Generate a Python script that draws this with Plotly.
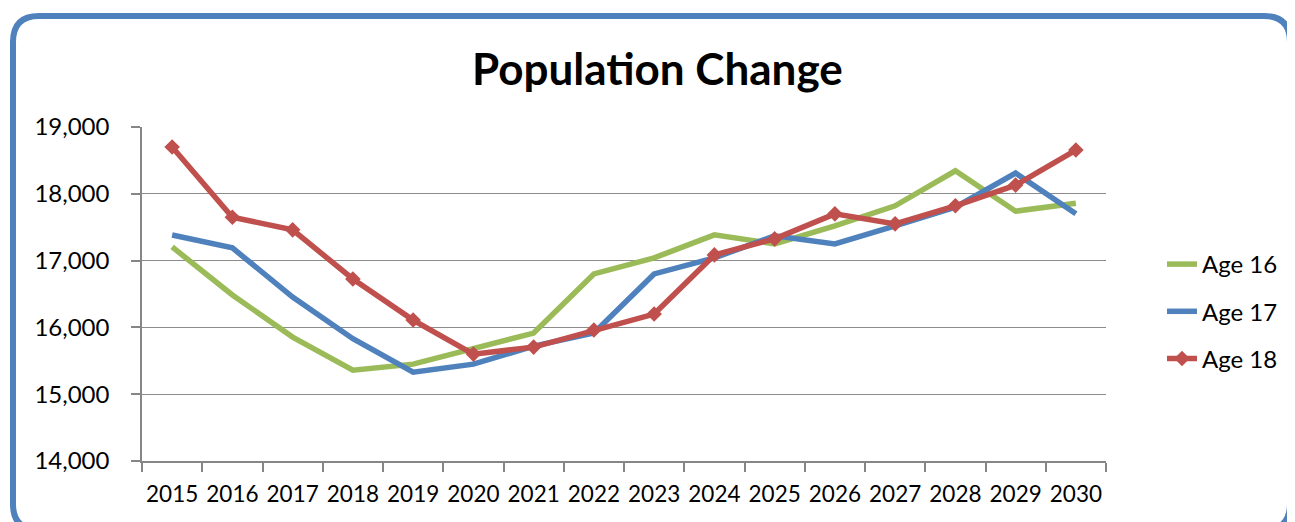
import plotly.graph_objects as go

years = [str(y) for y in range(2015, 2031)]
age16 = [17205, 16485, 15855, 15360, 15450, 15690, 15915, 16800, 17040, 17385, 17250, 17520, 17820, 18345, 17740, 17860]
age17 = [17383, 17190, 16455, 15830, 15330, 15450, 15720, 15915, 16800, 17040, 17370, 17250, 17520, 17800, 18310, 17700]
age18 = [18700, 17650, 17460, 16725, 16110, 15600, 15705, 15960, 16200, 17085, 17325, 17700, 17550, 17820, 18130, 18655]
series_names = ["Age 16", "Age 17", "Age 18"]
colors = ["#9BBB59", "#4F81BD", "#C0504D"]

OFF = 8  # page body margin
W, H = 1295 - OFF, 522 - OFF
L, R, T, B = 142 - OFF, 1106 - OFF, 127 - OFF, 461 - OFF
FONT = "Lato, Open Sans, sans-serif"

def px(x):  # page pixel -> paper
    return (x - OFF - L) / (R - L)

def py(y):
    return (B - (y - OFF)) / (B - T)

fig = go.Figure()
for name, vals, col in zip(series_names, [age16, age17, age18], colors):
    kw = dict(mode="lines")
    if name == "Age 18":
        kw = dict(mode="lines+markers", marker=dict(symbol="diamond", size=12, color=col))
    fig.add_trace(go.Scatter(x=years, y=vals, name=name, line=dict(color=col, width=5.5),
                             legendgroup=name, **kw))

# rounded border path (page pixels -> paper)
x0, y0, x1, y1, r = 13, 16, 1290, 530, 26
pts = (f"M {px(x0+r)},{py(y0)} L {px(x1-r)},{py(y0)} Q {px(x1)},{py(y0)} {px(x1)},{py(y0+r)} "
       f"L {px(x1)},{py(y1-r)} Q {px(x1)},{py(y1)} {px(x1-r)},{py(y1)} "
       f"L {px(x0+r)},{py(y1)} Q {px(x0)},{py(y1)} {px(x0)},{py(y1-r)} "
       f"L {px(x0)},{py(y0+r)} Q {px(x0)},{py(y0)} {px(x0+r)},{py(y0)} Z")

fig.update_layout(
    width=W, height=H,
    margin=dict(l=L, r=W - R, t=T, b=H - B, autoexpand=False),
    paper_bgcolor="white", plot_bgcolor="white",
    font=dict(family=FONT, size=24, color="black"),
    showlegend=True,
    legend=dict(x=px(1162), y=py(242), xanchor="left", yanchor="top",
                font=dict(size=24), tracegroupgap=13, itemwidth=30,
                bgcolor="rgba(0,0,0,0)"),
    shapes=[dict(type="path", path=pts, xref="paper", yref="paper",
                 line=dict(color="#4F81BD", width=6), layer="below")],
    annotations=[dict(text="<b>Population Change</b>", x=px(657), y=py(68),
                      xref="paper", yref="paper", showarrow=False,
                      font=dict(family=FONT, size=44, color="black"),
                      xanchor="center", yanchor="middle")],
)
fig.update_xaxes(type="category", showline=True, linecolor="#868686", linewidth=1.5,
                 ticks="outside", tickson="boundaries", ticklen=9, tickcolor="#868686",
                 tickwidth=1.5, showgrid=False, tickfont=dict(size=22.5), tickangle=0,
                 range=[-0.5, 15.5], ticklabelstandoff=12)
fig.update_yaxes(range=[14000, 19000], dtick=1000, tickformat=",d",
                 showline=True, linecolor="#868686", linewidth=1.5,
                 ticks="outside", ticklen=9, tickcolor="#868686", tickwidth=1.5,
                 gridcolor="#8C8C8C", gridwidth=1.2, zeroline=False,
                 tickfont=dict(size=24), ticklabelstandoff=17)

fig.write_html("out.html")
